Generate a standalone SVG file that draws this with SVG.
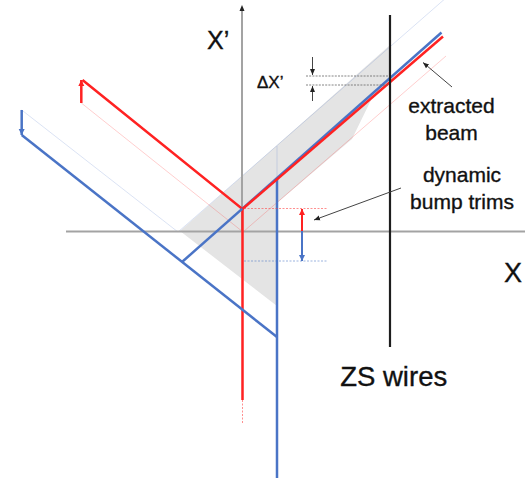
<svg xmlns="http://www.w3.org/2000/svg" width="525" height="490" viewBox="0 0 525 490">
<style>
  text { font-family: "Liberation Sans", Arial, sans-serif; fill: #111; stroke: #111; stroke-width: 0.35; }
  .axis { stroke: #a3a3a3; stroke-width: 2; fill: none; }
  .red { stroke: #ff2222; stroke-width: 2.5; fill: none; }
  .blue { stroke: #4a74c6; stroke-width: 2.5; fill: none; }
  .fred { stroke: #ff2222; stroke-opacity: 0.22; stroke-width: 1; fill: none; }
  .fblue { stroke: #4a74c6; stroke-opacity: 0.2; stroke-width: 1; fill: none; }
  .dotred { stroke: #ff4444; stroke-opacity: 0.6; stroke-width: 1; stroke-dasharray: 2 1.5; fill: none; }
  .dotblue { stroke: #4a74c6; stroke-opacity: 0.55; stroke-width: 1; stroke-dasharray: 2 1.5; fill: none; }
  .dotgray { stroke: #666; stroke-width: 0.8; stroke-dasharray: 2 1.2; fill: none; }
  .lead { stroke: #444; stroke-width: 1; fill: none; }
</style>
<defs>
  <marker id="ahRed" markerUnits="userSpaceOnUse" markerWidth="7" markerHeight="7" refX="6" refY="3" orient="auto">
    <path d="M0,0 L6,3 L0,6 z" fill="#ff2222"/>
  </marker>
  <marker id="ahBlue" markerUnits="userSpaceOnUse" markerWidth="7" markerHeight="7" refX="6" refY="3" orient="auto">
    <path d="M0,0 L6,3 L0,6 z" fill="#4a74c6"/>
  </marker>
  <marker id="ahBlack" markerUnits="userSpaceOnUse" markerWidth="7" markerHeight="7" refX="6" refY="3" orient="auto">
    <path d="M0,0.5 L6,3 L0,5.5 z" fill="#222"/>
  </marker>
</defs>

<g id="acceptance-band">
  <polygon points="180,231 390,45 390,80 372,98 352,139 277,203 277,306" fill="#e4e4e4"/>
</g>

<g id="unbumped-tracks">
  <polyline class="fblue" points="21.7,110 178,232 447,-3"/>
  <line class="fblue" x1="277" y1="146" x2="277" y2="178"/>
  <polyline class="fred" points="81.3,103 243,232 446,56"/>
  <line class="dotred" x1="242.5" y1="400" x2="242.5" y2="424"/>
</g>

<g id="axes">
  <line class="axis" x1="66" y1="231.5" x2="525" y2="231.5"/>
  <line class="axis" x1="242" y1="232" x2="242" y2="10"/>
  <path d="M239.5,11 L242,5 L244.5,11 z" fill="#222"/>
</g>

<g id="red-trajectory">
  <line class="red" x1="81.3" y1="103" x2="81.3" y2="80" marker-end="url(#ahRed)"/>
  <polyline class="red" points="82.5,80 242.5,209 242.5,400"/>
</g>

<g id="blue-trajectory">
  <line class="blue" x1="21.7" y1="110" x2="21.7" y2="135" marker-end="url(#ahBlue)"/>
  <polyline class="blue" points="21.7,135 277,337"/>
  <line class="blue" x1="277" y1="178" x2="277" y2="478"/>
</g>

<g id="extracted-beam">
  <line class="blue" x1="182" y1="262" x2="441.5" y2="32.5" stroke-width="3"/>
  <line class="red" x1="242.5" y1="209" x2="443" y2="36.5" stroke-width="3"/>
</g>

<g id="zs-wire">
  <line x1="390" y1="15" x2="390" y2="347" stroke="#1e1e1e" stroke-width="2.2"/>
</g>

<g id="bump-trims">
  <line class="dotred" x1="244" y1="208.5" x2="327" y2="208.5"/>
  <line class="dotblue" x1="244" y1="261" x2="327" y2="261"/>
  <line x1="302" y1="231" x2="302" y2="209" stroke="#ff2222" stroke-width="2" marker-end="url(#ahRed)"/>
  <line x1="302" y1="231" x2="302" y2="261" stroke="#4a74c6" stroke-width="2" marker-end="url(#ahBlue)"/>
</g>

<g id="delta-xprime">
  <line class="dotgray" x1="306" y1="76" x2="389" y2="76"/>
  <line class="dotgray" x1="306" y1="85" x2="389" y2="85"/>
  <line class="lead" x1="312.5" y1="57" x2="312.5" y2="75" marker-end="url(#ahBlack)"/>
  <line class="lead" x1="312.5" y1="101" x2="312.5" y2="86" marker-end="url(#ahBlack)"/>
  <text x="257" y="88" font-size="17">ΔX’</text>
</g>

<g id="connectors">
  <line class="lead" x1="452" y1="87" x2="423" y2="62.5" marker-end="url(#ahBlack)"/>
  <line class="lead" x1="401" y1="188" x2="314" y2="220" marker-end="url(#ahBlack)"/>
</g>

<g id="labels">
  <text x="207" y="48.5" font-size="25">X’</text>
  <text x="504" y="282" font-size="27">X</text>
  <text x="451.5" y="113" font-size="21" text-anchor="middle">extracted</text>
  <text x="451.5" y="140" font-size="21" text-anchor="middle">beam</text>
  <text x="462" y="182" font-size="21" text-anchor="middle">dynamic</text>
  <text x="462" y="208.5" font-size="21" text-anchor="middle">bump trims</text>
  <text x="393.7" y="386" font-size="27.5" text-anchor="middle">ZS wires</text>
</g>
</svg>
